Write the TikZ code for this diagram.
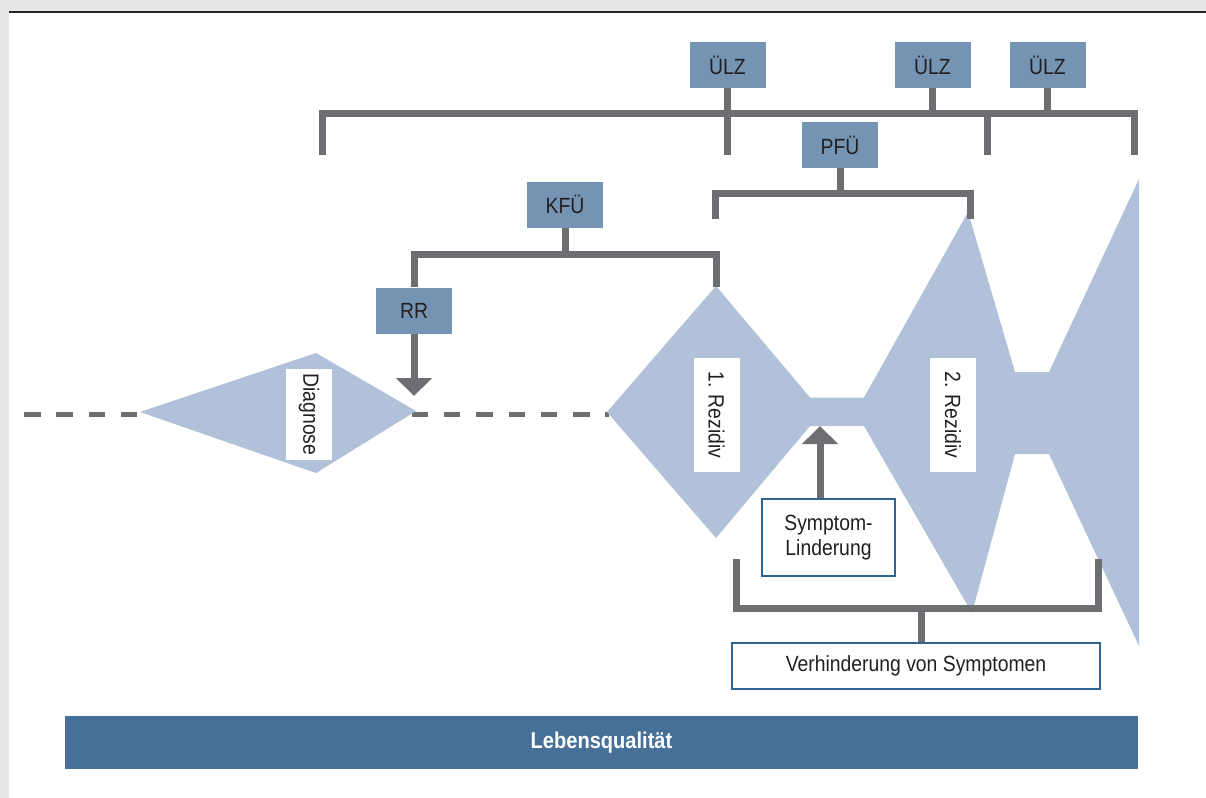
\documentclass[tikz,border=0pt]{standalone}
\usepackage{fontspec}
\setmainfont{Liberation Sans}[FakeStretch=0.88]
\usetikzlibrary{arrows.meta}
\usetikzlibrary{calc}

\definecolor{bgGray}{HTML}{E6E7E8}
\definecolor{lineGray}{HTML}{6D6E72}
\definecolor{tagBlue}{HTML}{7593B3}
\definecolor{courseBlue}{HTML}{B1C1D9}
\definecolor{barBlue}{HTML}{467098}
\definecolor{frameBlue}{HTML}{2F6492}
\definecolor{textDark}{HTML}{231F20}

\newcommand{\boxfont}{\fontsize{11}{12.75}\selectfont}

\tikzset{
  tag/.style={fill=tagBlue, text=textDark, minimum width=38pt, minimum height=23pt, inner sep=0pt, font=\boxfont},
  flag/.style={fill=white, text=textDark, rotate=-90, minimum height=23pt, inner sep=0pt, font=\boxfont},
  note/.style={draw=frameBlue, line width=0.6pt, fill=white, text=textDark, inner sep=0pt, font=\boxfont},
  brace/.style={draw=lineGray, line width=3.5pt, line join=miter},
  pointer/.style={draw=lineGray, line width=3.5pt, -{Triangle[width=17.5pt, length=9pt]}}
}

\begin{document}
\begin{tikzpicture}[x=0.5pt, y=-0.5pt]
\useasboundingbox (0,0) rectangle (1206,798);

% frame
\fill[bgGray] (0,0) rectangle (1206,798);
\fill[white] (9,12.5) rectangle (1206,798);
\draw[line width=1pt, black!85] (9,11.5) -- (1206,11.5);

% time line
\draw[lineGray, line width=2.5pt, dash pattern=on 8.25pt off 7.9pt] (24,414) -- (609,414);

% course of the disease
\fill[courseBlue] (140,412) -- (316,353) -- (416,411) -- (316,473) -- cycle;
\fill[courseBlue] (607,412) -- (716,286) -- (810,397.5) -- (864,397.5) -- (968,212) -- (1015,372) -- (1049,372) -- (1139,179)
  -- (1139,646) -- (1049,454) -- (1015,454) -- (972,613) -- (864,426) -- (810,426) -- (716,538) -- cycle;

\node[flag, minimum width=45.5pt] (diag) at (309,414.5) {Diagnose};
\node[flag, minimum width=57pt] (rez1) at (716.5,415) {1. Rezidiv};
\node[flag, minimum width=57pt] (rez2) at (953,415) {2. Rezidiv};

% follow-up boxes
\node[tag] (ulz1) at (727.5,65) {ÜLZ};
\node[tag] (ulz2) at (932.5,65) {ÜLZ};
\node[tag] (ulz3) at (1047.5,65) {ÜLZ};
\node[tag] (pfu) at (840,145) {PFÜ};
\node[tag] (kfu) at (565,204.5) {KFÜ};
\node[tag] (rr) at (414,310.5) {RR};

\node[note, minimum width=66.5pt, minimum height=38.5pt, align=center] (lind) at (828.5,537.5) {Symptom-\\Linderung};
\node[note, minimum width=184pt, minimum height=23pt] (verh) at (916,666) {Verhinderung von Symptomen};

\node[fill=barBlue, minimum width=536.5pt, minimum height=26.5pt, text=white, font=\fontsize{11.4}{13}\selectfont\bfseries] (lq) at (601.5,742.5) {Lebensqualität};

% brackets
\coordinate (topbar) at (0,113.5);
\coordinate (topL) at (322,155);
\coordinate (topM) at (987,155);
\coordinate (topR) at (1134,155);
\draw[brace] (topL) -- (topL |- topbar) -- (topR |- topbar) -- (topR);
\draw[brace] (ulz1.south) -- (ulz1.south |- topL);
\draw[brace] (ulz2) -- (ulz2 |- topbar);
\draw[brace] (ulz3) -- (ulz3 |- topbar);
\draw[brace] (topM |- topbar) -- (topM);

\coordinate (pfubar) at (0,193.5);
\coordinate (pfuL) at (715,219);
\coordinate (pfuR) at (970.5,219);
\draw[brace] (pfuL) -- (pfuL |- pfubar) -- (pfuR |- pfubar) -- (pfuR);
\draw[brace] (pfu) -- (pfu |- pfubar);

\coordinate (kfubar) at (0,254);
\coordinate (rezTop) at (716,287);
\draw[brace] (rr) -- (rr |- kfubar) -- (rezTop |- kfubar) -- (rezTop);
\draw[brace] (kfu) -- (kfu |- kfubar);

\coordinate (botbar) at (0,608.5);
\coordinate (botL) at (736,559);
\coordinate (botR) at (1098.5,559);
\coordinate (botStem) at (921.5,608.5);
\draw[brace] (botL) -- (botL |- botbar) -- (botR |- botbar) -- (botR);
\draw[brace] (botStem |- verh.north) -- (botStem);

% arrows
\coordinate (rrTip) at (414,396);
\coordinate (lindTip) at (820,426);
\draw[pointer] (rr) -- (rrTip);
\draw[pointer] (lindTip |- lind.north) -- (lindTip);

\end{tikzpicture}
\end{document}
